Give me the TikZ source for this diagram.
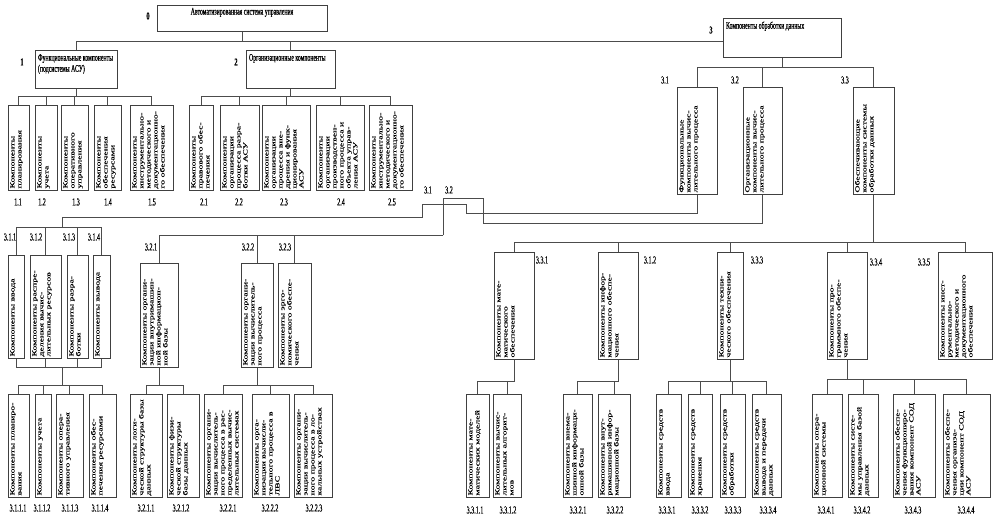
\documentclass[tikz,border=0pt]{standalone}
\usepackage{fontspec}
\setmainfont{Liberation Serif}
\newfontfamily\hfont[FakeStretch=0.58,FakeBold=0.6]{Liberation Serif}
\newfontfamily\vfont[FakeStretch=1.6,FakeBold=0.6]{Liberation Serif}
\usepackage{tikz}
\usetikzlibrary{positioning}
% text block of a box: length along the text, thickness across it
\newcommand{\tb}[3]{\parbox[c][#2pt][t]{#1pt}{\begin{tabular}[t]{@{}l@{}}#3\end{tabular}}}

\begin{document}
\begin{tikzpicture}[
  x=1pt,y=-1pt,
  comp/.style={draw=black!75,line width=1pt,rotate=90,inner sep=1.5pt,
               font=\vfont\fontsize{6.1}{7}\selectfont},
  head/.style={draw=black!75,line width=1pt,inner sep=3pt,
               font=\hfont\fontsize{10}{11}\selectfont},
  num/.style={font=\hfont\fontsize{10.5}{11}\selectfont,inner sep=0pt},
  idx/.style={font=\hfont\bfseries\fontsize{10.5}{11}\selectfont,inner sep=0pt},
  wire/.style={draw=black!70,line width=.7pt},
]
\useasboundingbox (0,0) rectangle (999,530);

% top level
\node[head] (n0) at (242,18) {\parbox[c][20pt][t]{164pt}{\centering Автоматизированная система управления}};
\node[head] (n1) at (76,69) {\tb{76}{32}{Функциональные компоненты\\(подсистемы АСУ)}};
\node[head] (n2) at (290.5,69) {\tb{83}{32}{Организационные компоненты}};
\node[head] (n3) at (782,37.5) {\tb{112}{33}{Компоненты обработки данных}};
\node[idx] (l0) at (148,16) {0};
\node[idx] (l1) at (22,62) {1};
\node[idx] (l2) at (236,62) {2};
\node[idx] (l3) at (711,30) {3};

% rotated boxes: east = top side, west = bottom side
\node[comp] (n11) at (18.5,147.5) {\tb{82}{18}{Компоненты\\планирования}};
\node[comp] (n12) at (46,147.5) {\tb{82}{19}{Компоненты\\учета}};
\node[comp] (n13) at (74.5,147.5) {\tb{82}{24}{Компоненты\\оперативного\\управления}};
\node[comp] (n14) at (107.5,147.5) {\tb{82}{24}{Компоненты\\обеспечения\\ресурсами}};
\node[comp] (n15) at (151.5,147.5) {\tb{82}{40}{Компоненты\\инструментально-\\методического и\\документационно-\\го обеспечения}};
\node[comp] (n21) at (201,147.5) {\tb{82}{21}{Компоненты\\правового обес-\\печения}};
\node[comp] (n22) at (239.5,147.5) {\tb{82}{36}{Компоненты\\организации\\процесса разра-\\ботки АСУ}};
\node[comp] (n23) at (286,147.5) {\tb{82}{45}{Компоненты\\организации\\процесса вне-\\дрения и функ-\\ционирования\\АСУ}};
\node[comp] (n24) at (340,147.5) {\tb{82}{45}{Компоненты\\организации\\производствен-\\ного процесса и\\объекта управ-\\ления АСУ}};
\node[comp] (n25) at (390.5,147.5) {\tb{82}{40}{Компоненты\\инструментально-\\методического и\\документационно-\\го обеспечения}};
\foreach \t/\x in {1.1/18,1.2/42,1.3/76,1.4/108,1.5/152,2.1/204,2.2/239,2.3/284,2.4/341,2.5/392}
  \node[num] (l\t) at (\x,202) {\t};

\node[comp] (n31) at (697,140.5) {\tb{104}{37}{Функциональные\\компоненты вычис-\\лительного процесса}};
\node[comp] (n32) at (762.5,140.5) {\tb{104}{36}{Организационные\\компоненты вычис-\\лительного процесса}};
\node[comp] (n33) at (873.5,140.5) {\tb{104}{38}{Обеспечивающие\\компоненты системы\\обработки данных}};
\node[num] (l31) at (665,80) {3.1};
\node[num] (l32) at (735,80) {3.2};
\node[num] (l33) at (845,80) {3.3};
\node[num] (l31b) at (428,190) {3.1};
\node[num] (l32b) at (449,190) {3.2};

\node[comp] (n311) at (16,306.5) {\tb{100}{13}{Компоненты ввода}};
\node[comp] (n312) at (45.5,306.5) {\tb{100}{28}{Компоненты распре-\\деления вычис-\\лительных ресурсов}};
\node[comp] (n313) at (77.5,306.5) {\tb{100}{18}{Компоненты разра-\\ботки}};
\node[comp] (n314) at (101.5,306.5) {\tb{100}{14}{Компоненты вывода}};
\node[num] (l311) at (10,237) {3.1.1};
\node[num] (l312) at (36,237) {3.1.2};
\node[num] (l313) at (69,237) {3.1.3};
\node[num] (l314) at (94,237) {3.1.4};

\node[comp] (n321) at (159,315) {\tb{101}{35}{Компоненты органи-\\зации внутримашин-\\ной информацион-\\ной базы}};
\node[comp] (n322) at (257,315) {\tb{101}{29}{Компоненты органи-\\зации вычислитель-\\ного процесса}};
\node[comp] (n323) at (294.5,315) {\tb{101}{30}{Компоненты эрго-\\номического обеспе-\\чения}};
\node[num] (l321) at (151,247) {3.2.1};
\node[num] (l322) at (248,247) {3.2.2};
\node[num] (l323) at (285,247) {3.2.3};

\node[comp] (n331) at (514,305.5) {\tb{104}{37}{Компоненты мате-\\матического\\обеспечения}};
\node[comp] (n332) at (618,305.5) {\tb{104}{37}{Компоненты инфор-\\мационного обеспе-\\чения}};
\node[comp] (n333) at (730,305.5) {\tb{104}{23}{Компоненты техни-\\ческого обеспечения}};
\node[comp] (n334) at (847,305.5) {\tb{104}{37}{Компоненты про-\\граммного обеспе-\\чения}};
\node[comp] (n335) at (965,305.5) {\tb{104}{51}{Компоненты инст-\\рументально-\\методического и\\документационного\\обеспечения}};
\node[num] (l331) at (542,260) {3.3.1};
\node[num] (l332) at (650,260) {3.1.2};
\node[num] (l333) at (757,260) {3.3.3};
\node[num] (l334) at (876,262) {3.3.4};
\node[num] (l335) at (924,262) {3.3.5};

% bottom level
\node[comp] (n3111) at (18.5,445.5) {\tb{100}{18}{Компоненты планиро-\\вания}};
\node[comp] (n3112) at (43,445.5) {\tb{100}{13}{Компоненты учета}};
\node[comp] (n3113) at (69.5,445.5) {\tb{100}{24}{Компоненты опера-\\тивного управления}};
\node[comp] (n3114) at (102.5,445.5) {\tb{100}{24}{Компоненты обес-\\печения ресурсами}};
\node[comp] (n3211) at (146,445.5) {\tb{100}{29}{Компоненты логи-\\ческой структуры базы\\данных}};
\node[comp] (n3212) at (183,445.5) {\tb{100}{29}{Компоненты физи-\\ческой структуры\\базы данных}};
\node[comp] (n3221) at (223,445.5) {\tb{100}{35}{Компоненты органи-\\зации вычислитель-\\ного процесса в рас-\\пределенных вычис-\\лительных системах}};
\node[comp] (n3222) at (270.5,445.5) {\tb{100}{34}{Компоненты орга-\\низации вычисли-\\тельного процесса в\\ЛВС}};
\node[comp] (n3223) at (313,445.5) {\tb{100}{35}{Компоненты органи-\\зации вычислитель-\\ного процесса в ло-\\кальных устройствах}};
\node[comp] (n3311) at (477.5,445.5) {\tb{100}{20}{Компоненты мате-\\матических моделей}};
\node[comp] (n3312) at (507,445.5) {\tb{100}{25}{Компоненты вычис-\\лительных алгорит-\\мов}};
\node[comp] (n3321) at (577.5,445.5) {\tb{100}{26}{Компоненты внема-\\шинной информаци-\\онной базы}};
\node[comp] (n3322) at (614,445.5) {\tb{100}{29}{Компоненты внут-\\римашинной инфор-\\мационной базы}};
\node[comp] (n3331) at (668.5,445.5) {\tb{100}{22}{Компоненты средств\\ввода}};
\node[comp] (n3332) at (700,445.5) {\tb{100}{21}{Компоненты средств\\хранения}};
\node[comp] (n3333) at (732.5,445.5) {\tb{100}{22}{Компоненты средств\\обработки}};
\node[comp] (n3334) at (766.5,445.5) {\tb{100}{26}{Компоненты средств\\вывода и передачи\\данных}};
\node[comp] (n3341) at (827,445.5) {\tb{100}{27}{Компоненты опера-\\ционной системы}};
\node[comp] (n3342) at (863,445.5) {\tb{100}{27}{Компоненты систе-\\мы управления базой\\данных}};
\node[comp] (n3343) at (914,445.5) {\tb{100}{39}{Компоненты обеспе-\\чения функциониро-\\вания компонент СОД\\АСУ}};
\node[comp] (n3344) at (966.5,445.5) {\tb{100}{44}{Компоненты обеспе-\\чения организа-\\ции компонент СОД\\АСУ}};
\foreach \t/\x in {3.1.1.1/18,3.1.1.2/42,3.1.1.3/70,3.1.1.4/100,3.2.1.1/146,3.2.1.2/181,
                   3.2.2.1/228,3.2.2.2/270,3.2.2.3/314}
  \node[num] (l\t) at (\x,508) {\t};
\foreach \t/\x in {3.3.1.1/475,3.3.1.2/508,3.3.2.1/578,3.3.2.2/615,3.3.3.1/667,3.3.3.2/700,
                   3.3.3.3/733,3.3.3.4/768,3.3.4.1/826,3.3.4.2/862,3.3.4.3/913,3.3.4.4/966}
  \node[num] (l\t) at (\x,510) {\t};

% connectors
\coordinate (b0) at (242,41);
\draw[wire] (n0.south) -- (b0);
\draw[wire] (n1.north) |- (b0 -| n3.west);
\draw[wire] (n2.north) -- (n2.north |- b0);

\draw[wire] (n1.south) -- ++(0,8) coordinate (b1);
\foreach \c in {n11,n12,n13,n14,n15} \draw[wire] (b1) -| (\c.east);
\draw[wire] (n2.south) -- ++(0,8) coordinate (b2);
\foreach \c in {n21,n22,n23,n24,n25} \draw[wire] (b2) -| (\c.east);

\draw[wire] (n3.south) -- ++(0,10) coordinate (b3);
\foreach \c in {n31,n32,n33} \draw[wire] (b3) -| (\c.east);

\draw[wire] (n31.west) |- (466,213) |- (422,204) |- (62,217) -- (62,227) coordinate (b31);
\foreach \c in {n311,n312,n313,n314} \draw[wire] (b31) -| (\c.east);
\coordinate (j31) at (62,367);
\foreach \c in {n311,n312,n313,n314} \draw[wire] (\c.west) |- (j31);
\draw[wire] (j31) -- ++(0,18) coordinate (b311);
\foreach \c in {n3111,n3112,n3113,n3114} \draw[wire] (b311) -| (\c.east);

\draw[wire] (n32.west) |- (483,223) |- (443,198) -- (443,235) coordinate (b32);
\foreach \c in {n321,n322,n323} \draw[wire] (b32) -| (\c.east);
\draw[wire] (n321.west) -- ++(0,18) coordinate (b321);
\foreach \c in {n3211,n3212} \draw[wire] (b321) -| (\c.east);
\draw[wire] (n322.west) -- ++(0,18) coordinate (b322);
\foreach \c in {n3221,n3222,n3223} \draw[wire] (b322) -| (\c.east);

\draw[wire] (n33.west) -- ++(0,48) coordinate (b33);
\foreach \c in {n331,n332,n333,n334,n335} \draw[wire] (b33) -| (\c.east);
\draw[wire] (n331.west) -- ++(0,22) coordinate (b331);
\foreach \c in {n3311,n3312} \draw[wire] (b331) -| (\c.east);
\draw[wire] (n332.west) -- ++(0,22) coordinate (b332);
\foreach \c in {n3321,n3322} \draw[wire] (b332) -| (\c.east);
\draw[wire] (n333.west) -- ++(0,22) coordinate (b333);
\foreach \c in {n3331,n3332,n3333,n3334} \draw[wire] (b333) -| (\c.east);
\draw[wire] (n334.west) -- ++(0,20) coordinate (b334);
\foreach \c in {n3341,n3342,n3343,n3344} \draw[wire] (b334) -| (\c.east);
\end{tikzpicture}
\end{document}
